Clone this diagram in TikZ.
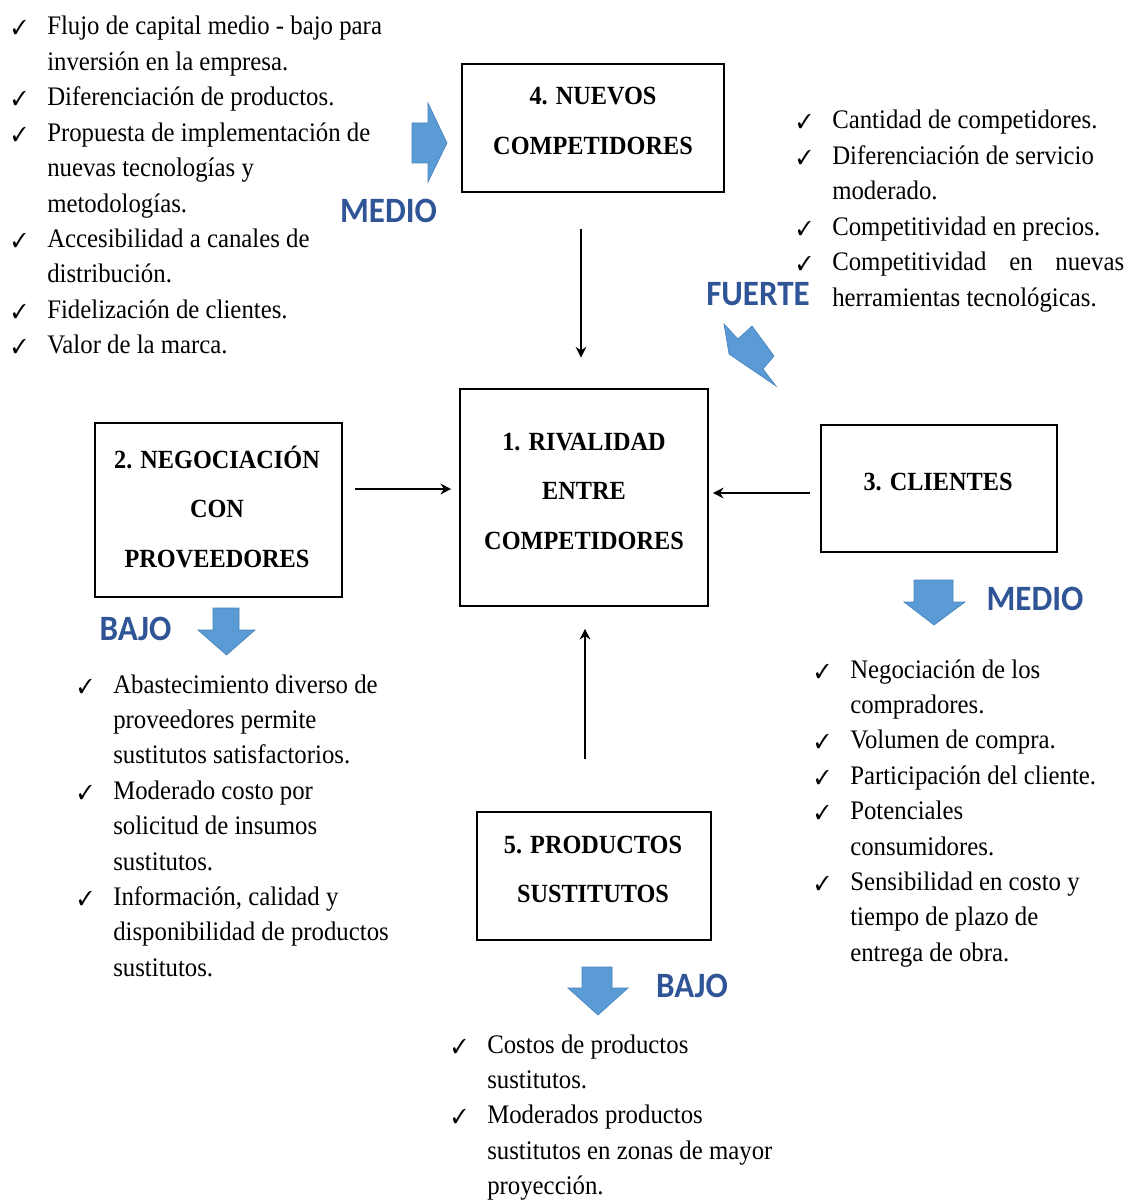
\documentclass[tikz,border=0pt]{standalone}
\usepackage{fontspec}
\setmainfont{Liberation Serif}
\newfontfamily\lblfont{Carlito}
\usepackage{pifont}
\usetikzlibrary{arrows.meta}

\definecolor{lvlblue}{HTML}{2F5597}
\definecolor{arrowblue}{HTML}{5B9BD5}
\definecolor{arrowedge}{HTML}{4A85BF}

% one drawing unit = 0.75pt
\newdimen\pxu \pxu=0.75pt
% slightly taller letter shapes
\newcommand\vstretch[1]{\scalebox{1}[1.08]{#1}}
% check mark column of the lists
\newcommand\chk{\makebox[26.25pt][l]{\fontsize{14pt}{14pt}\selectfont\ding{51}}}

\tikzset{
  box/.style={draw, line width=1.2pt, inner sep=0pt},
  boxtext/.style={anchor=base, inner sep=0pt,
    font=\bfseries\fontsize{18.2pt}{34.4pt}\selectfont},
  listtext/.style={anchor=base west, inner sep=0pt,
    font=\fontsize{18.6pt}{24.6pt}\selectfont},
  ratelabel/.style={anchor=base, inner sep=0pt, text=lvlblue,
    font=\lblfont\bfseries\fontsize{24.75pt}{28pt}\selectfont},
  conn/.style={line width=1.6pt, -{Stealth[length=8pt,width=8pt]}},
  blockarrow/.style={fill=arrowblue, draw=arrowedge, line width=0.5pt, line join=miter},
}

\begin{document}
\begin{tikzpicture}[x=0.75pt, y=-0.75pt]
\useasboundingbox (0,0) rectangle (1131,1202);
\fill[white] (0,0) rectangle (1131,1202);

% ---- the five forces ----
\node[box, minimum width=262\pxu, minimum height=128\pxu] (b4) at (593,128) {};
\node[box, minimum width=248\pxu, minimum height=217\pxu] (b1) at (584,497.5) {};
\node[box, minimum width=247\pxu, minimum height=174\pxu] (b2) at (218.5,510) {};
\node[box, minimum width=236\pxu, minimum height=127\pxu] (b3) at (939,488.5) {};
\node[box, minimum width=234\pxu, minimum height=128\pxu] (b5) at (594,876) {};

\node[boxtext] (t4) at (593,105) {\vstretch{\begin{tabular}[t]{@{}c@{}}4. NUEVOS\\COMPETIDORES\end{tabular}}};
\node[boxtext] (t1) at (584,450) {\vstretch{\begin{tabular}[t]{@{}c@{}}1. RIVALIDAD\\ENTRE\\COMPETIDORES\end{tabular}}};
\node[boxtext] (t2) at (217,468) {\vstretch{\begin{tabular}[t]{@{}c@{}}2. NEGOCIACIÓN\\CON\\PROVEEDORES\end{tabular}}};
\node[boxtext] (t3) at (938,490) {\vstretch{\begin{tabular}[t]{@{}c@{}}3. CLIENTES\end{tabular}}};
\node[boxtext] (t5) at (593,853) {\vstretch{\begin{tabular}[t]{@{}c@{}}5. PRODUCTOS\\SUSTITUTOS\end{tabular}}};

% ---- connectors towards the rivalry box ----
\coordinate (v41) at (581,0);
\coordinate (v51) at (585,0);
\coordinate (h21) at (0,489);
\coordinate (h31) at (0,493);
\draw[conn, shorten <=27pt, shorten >=23pt] (b4.south -| v41) -- (b1.north -| v41);
\draw[conn, shorten <=9.5pt, shorten >=6pt] (b2.east |- h21) -- (b1.west |- h21);
\draw[conn, shorten <=8pt, shorten >=3pt] (b3.west |- h31) -- (b1.east |- h31);
\draw[conn, shorten <=39pt, shorten >=16.5pt] (b5.north -| v51) -- (b1.south -| v51);

% ---- block arrows ----
\filldraw[blockarrow] (412,123) -- (428,123) -- (428,103) -- (447,143) -- (428,182) -- (428,163) -- (412,163) -- cycle;
\filldraw[blockarrow] (724,324) -- (738,339) -- (752,326) -- (774,356) -- (763,369) -- (776,386) -- (729,354) -- cycle;
\filldraw[blockarrow] (213,608) -- (239,608) -- (239,630) -- (255,630) -- (226.5,655) -- (198,630) -- (213,630) -- cycle;
\filldraw[blockarrow] (914,580) -- (953,580) -- (953,602) -- (965,602) -- (934,625) -- (904,602) -- (914,602) -- cycle;
\filldraw[blockarrow] (582,967) -- (612,967) -- (612,988) -- (628,988) -- (598,1015) -- (568,988) -- (582,988) -- cycle;

% ---- intensity labels ----
\node[ratelabel] (r4) at (388.5,222) {\vstretch{MEDIO}};
\node[ratelabel] (r1) at (758,305) {\vstretch{FUERTE}};
\node[ratelabel] (r2) at (135.5,640) {\vstretch{BAJO}};
\node[ratelabel] (r3) at (1035,610) {\vstretch{MEDIO}};
\node[ratelabel] (r5) at (692,997) {\vstretch{BAJO}};

% ---- factor lists ----
\node[listtext] (l4) at (12,35) {\vstretch{\begin{tabular}[t]{@{}l@{}l@{}}
\chk & Flujo de capital medio - bajo para\\
 & inversión en la empresa.\\
\chk & Diferenciación de productos.\\
\chk & Propuesta de implementación de\\
 & nuevas tecnologías y\\
 & metodologías.\\
\chk & Accesibilidad a canales de\\
 & distribución.\\
\chk & Fidelización de clientes.\\
\chk & Valor de la marca.
\end{tabular}}};

\node[listtext] (l1) at (797,129) {\vstretch{\begin{tabular}[t]{@{}l@{}l@{}}
\chk & Cantidad de competidores.\\
\chk & Diferenciación de servicio\\
 & moderado.\\
\chk & Competitividad en precios.\\
\chk & \makebox[219pt][s]{Competitividad en nuevas}\\
 & herramientas tecnológicas.
\end{tabular}}};

\node[listtext] (l2) at (78,693) {\vstretch{\begin{tabular}[t]{@{}l@{}l@{}}
\chk & Abastecimiento diverso de\\
 & proveedores permite\\
 & sustitutos satisfactorios.\\
\chk & Moderado costo por\\
 & solicitud de insumos\\
 & sustitutos.\\
\chk & Información, calidad y\\
 & disponibilidad de productos\\
 & sustitutos.
\end{tabular}}};

\node[listtext] (l3) at (815,678) {\vstretch{\begin{tabular}[t]{@{}l@{}l@{}}
\chk & Negociación de los\\
 & compradores.\\
\chk & Volumen de compra.\\
\chk & Participación del cliente.\\
\chk & Potenciales\\
 & consumidores.\\
\chk & Sensibilidad en costo y\\
 & tiempo de plazo de\\
 & entrega de obra.
\end{tabular}}};

\node[listtext] (l5) at (452,1053) {\vstretch{\begin{tabular}[t]{@{}l@{}l@{}}
\chk & Costos de productos\\
 & sustitutos.\\
\chk & Moderados productos\\
 & sustitutos en zonas de mayor\\
 & proyección.
\end{tabular}}};
\end{tikzpicture}
\end{document}
